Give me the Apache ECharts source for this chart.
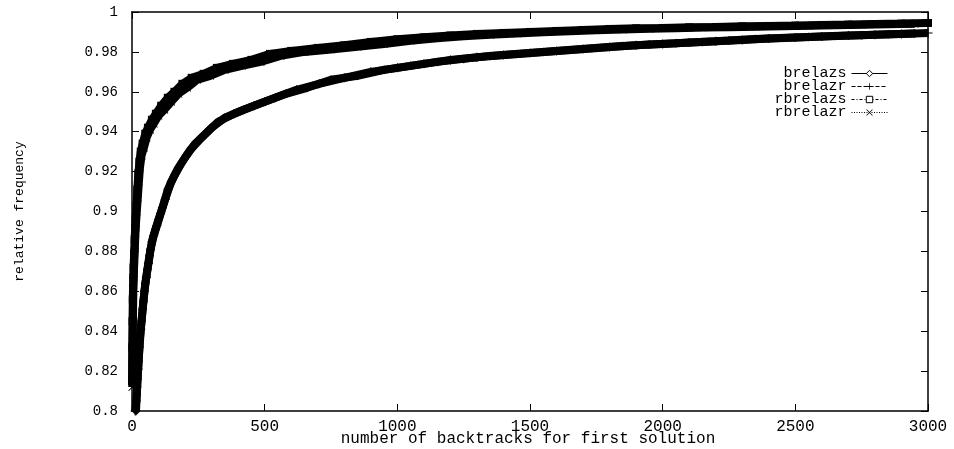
<!DOCTYPE html>
<html>
<head>
<meta charset="utf-8">
<script src="https://cdn.jsdelivr.net/npm/echarts@6/dist/echarts.min.js"></script>
<style>
  html, body { margin: 0; padding: 0; background: #fff; }
  #chart { width: 954px; height: 449px; }
</style>
</head>
<body>
<div id="chart"></div>
<script>
// ------------------------------------------------------
// Data
// ------------------------------------------------------
var seriesNames = ['brelazs', 'brelazr', 'rbrelazs', 'rbrelazr']
var xTitle = 'number of backtracks for first solution'
var yTitle = 'relative frequency'

// lower curve: brelaz runs
var brelazsX = [15, 18, 21, 25, 30, 36, 43, 50, 58, 66, 75, 88, 100, 115, 135, 160, 190, 220, 255, 300,
  350, 420, 500, 580, 660, 750, 850, 950, 1050, 1150, 1250, 1350, 1450, 1550, 1650, 1750, 1850, 1950,
  2050, 2150, 2250, 2350, 2450, 2550, 2650, 2750, 2850, 2950]
var brelazsY = [0.800, 0.808, 0.816, 0.825, 0.836, 0.845, 0.855, 0.864, 0.871, 0.878, 0.885, 0.891, 0.896,
  0.902, 0.911, 0.918, 0.925, 0.931, 0.936, 0.942, 0.947, 0.951, 0.955, 0.959, 0.962, 0.966, 0.968, 0.971,
  0.973, 0.975, 0.9765, 0.978, 0.979, 0.980, 0.981, 0.982, 0.983, 0.9837, 0.9843, 0.985, 0.9857, 0.9865,
  0.987, 0.9875, 0.988, 0.9884, 0.9888, 0.9892]

var brelazrX = [12, 16, 19, 23, 28, 33, 40, 47, 54, 62, 70, 82, 94, 108, 125, 148, 175, 205, 238, 278,
  325, 385, 460, 540, 620, 705, 800, 900, 1000, 1100, 1200, 1300, 1400, 1500, 1600, 1700, 1800, 1900,
  2000, 2100, 2200, 2300, 2400, 2500, 2600, 2700, 2800, 2900, 3000]
var brelazrY = [0.800, 0.805, 0.812, 0.821, 0.832, 0.841, 0.851, 0.860, 0.867, 0.874, 0.881, 0.888, 0.893,
  0.899, 0.906, 0.915, 0.922, 0.928, 0.934, 0.939, 0.945, 0.949, 0.953, 0.957, 0.961, 0.964, 0.967, 0.970,
  0.972, 0.974, 0.976, 0.9773, 0.9785, 0.9795, 0.9805, 0.9815, 0.9825, 0.9833, 0.984, 0.9847, 0.9853,
  0.986, 0.9867, 0.9872, 0.9877, 0.9882, 0.9886, 0.989, 0.9895]

// upper curve: rbrelaz runs
var rbrelazsX = [0, 1, 2, 3, 4, 5, 6, 8, 10, 12, 14, 17, 20, 24, 28, 33, 40, 50, 60, 75, 90, 110, 135,
  160, 190, 225, 270, 320, 380, 450, 520, 600, 700, 800, 900, 1000, 1100, 1200, 1300, 1400, 1500, 1600,
  1700, 1800, 1900, 2000, 2100, 2200, 2300, 2400, 2500, 2600, 2700, 2800, 2900, 3000]
var rbrelazsY = [0.815, 0.832, 0.845, 0.856, 0.862, 0.867, 0.872, 0.879, 0.886, 0.892, 0.897, 0.903,
  0.911, 0.919, 0.925, 0.930, 0.934, 0.939, 0.942, 0.946, 0.949, 0.953, 0.957, 0.960, 0.964, 0.967,
  0.969, 0.972, 0.974, 0.976, 0.979, 0.9805, 0.982, 0.9833, 0.985, 0.9863, 0.9873, 0.9882, 0.989,
  0.9895, 0.990, 0.9905, 0.991, 0.9915, 0.9918, 0.992, 0.9923, 0.9925, 0.9928, 0.993, 0.9932, 0.9935,
  0.9937, 0.994, 0.9942, 0.9945]

var rbrelazrX = [1, 2, 3, 4, 5, 7, 9, 11, 13, 15, 18, 22, 26, 30, 36, 45, 55, 68, 82, 100, 122, 148,
  175, 208, 245, 295, 350, 415, 485, 560, 650, 750, 850, 950, 1050, 1150, 1250, 1350, 1450, 1550, 1650,
  1750, 1850, 1950, 2050, 2150, 2250, 2350, 2450, 2550, 2650, 2750, 2850, 2950]
var rbrelazrY = [0.812, 0.826, 0.840, 0.851, 0.860, 0.869, 0.876, 0.883, 0.889, 0.894, 0.900, 0.907,
  0.915, 0.922, 0.928, 0.932, 0.937, 0.941, 0.944, 0.948, 0.951, 0.955, 0.959, 0.962, 0.966, 0.968,
  0.971, 0.973, 0.975, 0.978, 0.980, 0.9812, 0.9826, 0.984, 0.9856, 0.9868, 0.9878, 0.9886, 0.9892,
  0.9898, 0.9903, 0.9908, 0.9912, 0.9916, 0.9919, 0.9922, 0.9924, 0.9926, 0.9929, 0.9931, 0.9934,
  0.9936, 0.9939, 0.9941]

var xTicks = { min: 0, max: 3000, step: 500 }
var yTicks = { min: 0.8, max: 1, step: 0.02 }

// ------------------------------------------------------
// Helpers
// ------------------------------------------------------
function pairs(xs, ys) {
  return xs.map(function (x, i) { return [x, ys[i]] })
}

var FONT = 'Liberation Mono'
var PLUS = 'path://M0,4.4L10,4.4L10,5.6L0,5.6Z M4.4,0L5.6,0L5.6,10L4.4,10Z'
var CROSS = 'path://M0.8,0L5,4.2L9.2,0L10,0.8L5.8,5L10,9.2L9.2,10L5,5.8L0.8,10L0,9.2L4.2,5L0,0.8Z'

// hollow: legend icon drawn white with a black outline
var styles = [
  { symbol: 'diamond', size: 9, dash: 'solid', hollow: true },
  { symbol: PLUS, size: 9, dash: [4, 2], hollow: false },
  { symbol: 'rect', size: 8, dash: [3, 2, 1, 2], hollow: true },
  { symbol: CROSS, size: 8, dash: [1, 1.5], hollow: false }
]
var allData = [pairs(brelazsX, brelazsY), pairs(brelazrX, brelazrY),
  pairs(rbrelazsX, rbrelazsY), pairs(rbrelazrX, rbrelazrY)]

var series = seriesNames.map(function (name, i) {
  return {
    name: name,
    type: 'line',
    data: allData[i],
    symbol: styles[i].symbol,
    symbolSize: styles[i].size,
    showSymbol: true,
    animation: false,
    color: '#000',
    lineStyle: { color: '#000', width: 8 },
    itemStyle: { color: '#000' }
  }
})

function axisBase(extra) {
  var a = {
    type: 'value',
    axisLine: { show: true, onZero: false, lineStyle: { color: '#000', width: 1.5 } },
    axisTick: { show: true, inside: true, length: 7, lineStyle: { color: '#000' } },
    splitLine: { show: false },
    axisLabel: { show: false }
  }
  for (var k in extra) a[k] = extra[k]
  return a
}

// ------------------------------------------------------
// Chart
// ------------------------------------------------------
var myChart = echarts.init(document.getElementById('chart'))
var option = {
  backgroundColor: '#fff',
  animation: false,
  grid: { left: 132, right: 26, top: 12, bottom: 38, outerBoundsMode: 'none', containLabel: false },
  // x title placed as plain text below the tick labels
  graphic: [{
    type: 'text',
    x: 528,
    y: 439,
    style: {
      text: xTitle, fontFamily: FONT, fontSize: 16, fill: '#000',
      align: 'center', verticalAlign: 'middle'
    }
  }],
  legend: {
    orient: 'vertical',
    right: 61,
    top: 61,
    align: 'right',
    itemGap: -2,
    itemWidth: 36,
    itemHeight: 8,
    textStyle: { fontFamily: FONT, fontSize: 15, color: '#000' },
    data: seriesNames.map(function (n, i) {
      var item = { name: n, lineStyle: { width: 1, type: styles[i].dash } }
      if (styles[i].hollow) item.itemStyle = { color: '#fff', borderColor: '#000', borderWidth: 1 }
      return item
    })
  },
  xAxis: [
    axisBase({
      min: xTicks.min, max: xTicks.max, interval: xTicks.step, position: 'bottom',
      axisLabel: {
        show: true, margin: 8, fontFamily: FONT, fontSize: 16, color: '#000',
        formatter: function (v) { return String(v) }
      }
    }),
    axisBase({ min: xTicks.min, max: xTicks.max, interval: xTicks.step, position: 'top' })
  ],
  yAxis: [
    axisBase({
      min: yTicks.min, max: yTicks.max, interval: yTicks.step, position: 'left',
      name: yTitle, nameLocation: 'middle', nameGap: 106, nameRotate: 90,
      nameTextStyle: { fontFamily: FONT, fontSize: 13, color: '#000' },
      axisLabel: {
        show: true, margin: 14, fontFamily: FONT, fontSize: 14, color: '#000',
        formatter: function (v) { return String(+v.toFixed(2)) }
      }
    }),
    axisBase({ min: yTicks.min, max: yTicks.max, interval: yTicks.step, position: 'right' })
  ],
  series: series
}
option && myChart.setOption(option)
</script>
</body>
</html>
